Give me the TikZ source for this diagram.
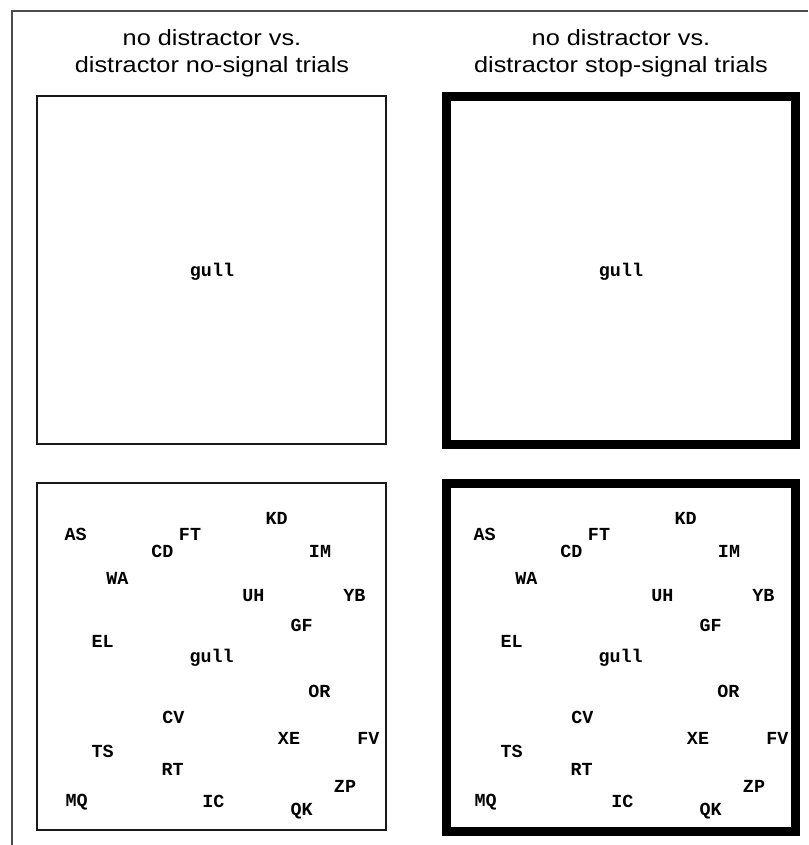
\documentclass[tikz,border=0pt]{standalone}
\usepackage{fontspec}
\newfontfamily\headfont[FakeStretch=1.15]{Liberation Sans}
\newfontfamily\stimfont{Liberation Mono}
\usepackage{tikz}

\tikzset{
  panel/.style={draw=black!90, line width=1.3pt},
  stoppanel/.style={draw=black, line width=4.5pt},
  header/.style={align=center, inner sep=0pt, anchor=north,
    font=\headfont\fontsize{11}{13.5}\selectfont},
  stim/.style={inner sep=0pt, font=\stimfont\bfseries\fontsize{9.2}{11}\selectfont},
}

\begin{document}
\begin{tikzpicture}[x=0.5pt, y=-0.5pt]
    \useasboundingbox (0,0) rectangle (808,845);
    \draw[black!70, line width=1pt] (12,845) -- (12,11) -- (808,11);

    \node[header] (hleft) at (212,29.5) {no distractor vs.\\distractor no-signal trials};
    \node[header] (hright) at (621,29.5) {no distractor vs.\\distractor stop-signal trials};

    \draw[panel] (37,96) rectangle (386,444);
    \node[stim] (tl-gull) at (212,272) {gull};

    \draw[stoppanel] (446,96.5) rectangle (795.5,444);
    \node[stim] (tr-gull) at (621,272) {gull};

    \draw[panel] (37,483) rectangle (386,830);
    \draw[stoppanel] (446,483.5) rectangle (795.5,831);

    \foreach \p/\dx in {bl/0, br/409} {
      \foreach \w/\x/\y in {AS/75.7/534.3, FT/190/534.3, KD/276.7/518.3,
          CD/162.3/551.7, IM/320/551.7, WA/117.3/578.3, UH/253.3/595.7,
          YB/354.3/595.7, GF/301.7/625.7, EL/102.7/641.7, gull/211.7/657.7,
          OR/319.3/691, CV/173.3/717.3, XE/289/738.3, FV/368.3/738.3,
          TS/102.7/751.7, RT/172.7/769.3, ZP/345/786.7, MQ/76.7/801.7,
          IC/213.3/801.7, QK/301.7/810.7} {
        \node[stim] (\p-\w) at (\x+\dx,\y) {\w};
      }
    }
\end{tikzpicture}
\end{document}
